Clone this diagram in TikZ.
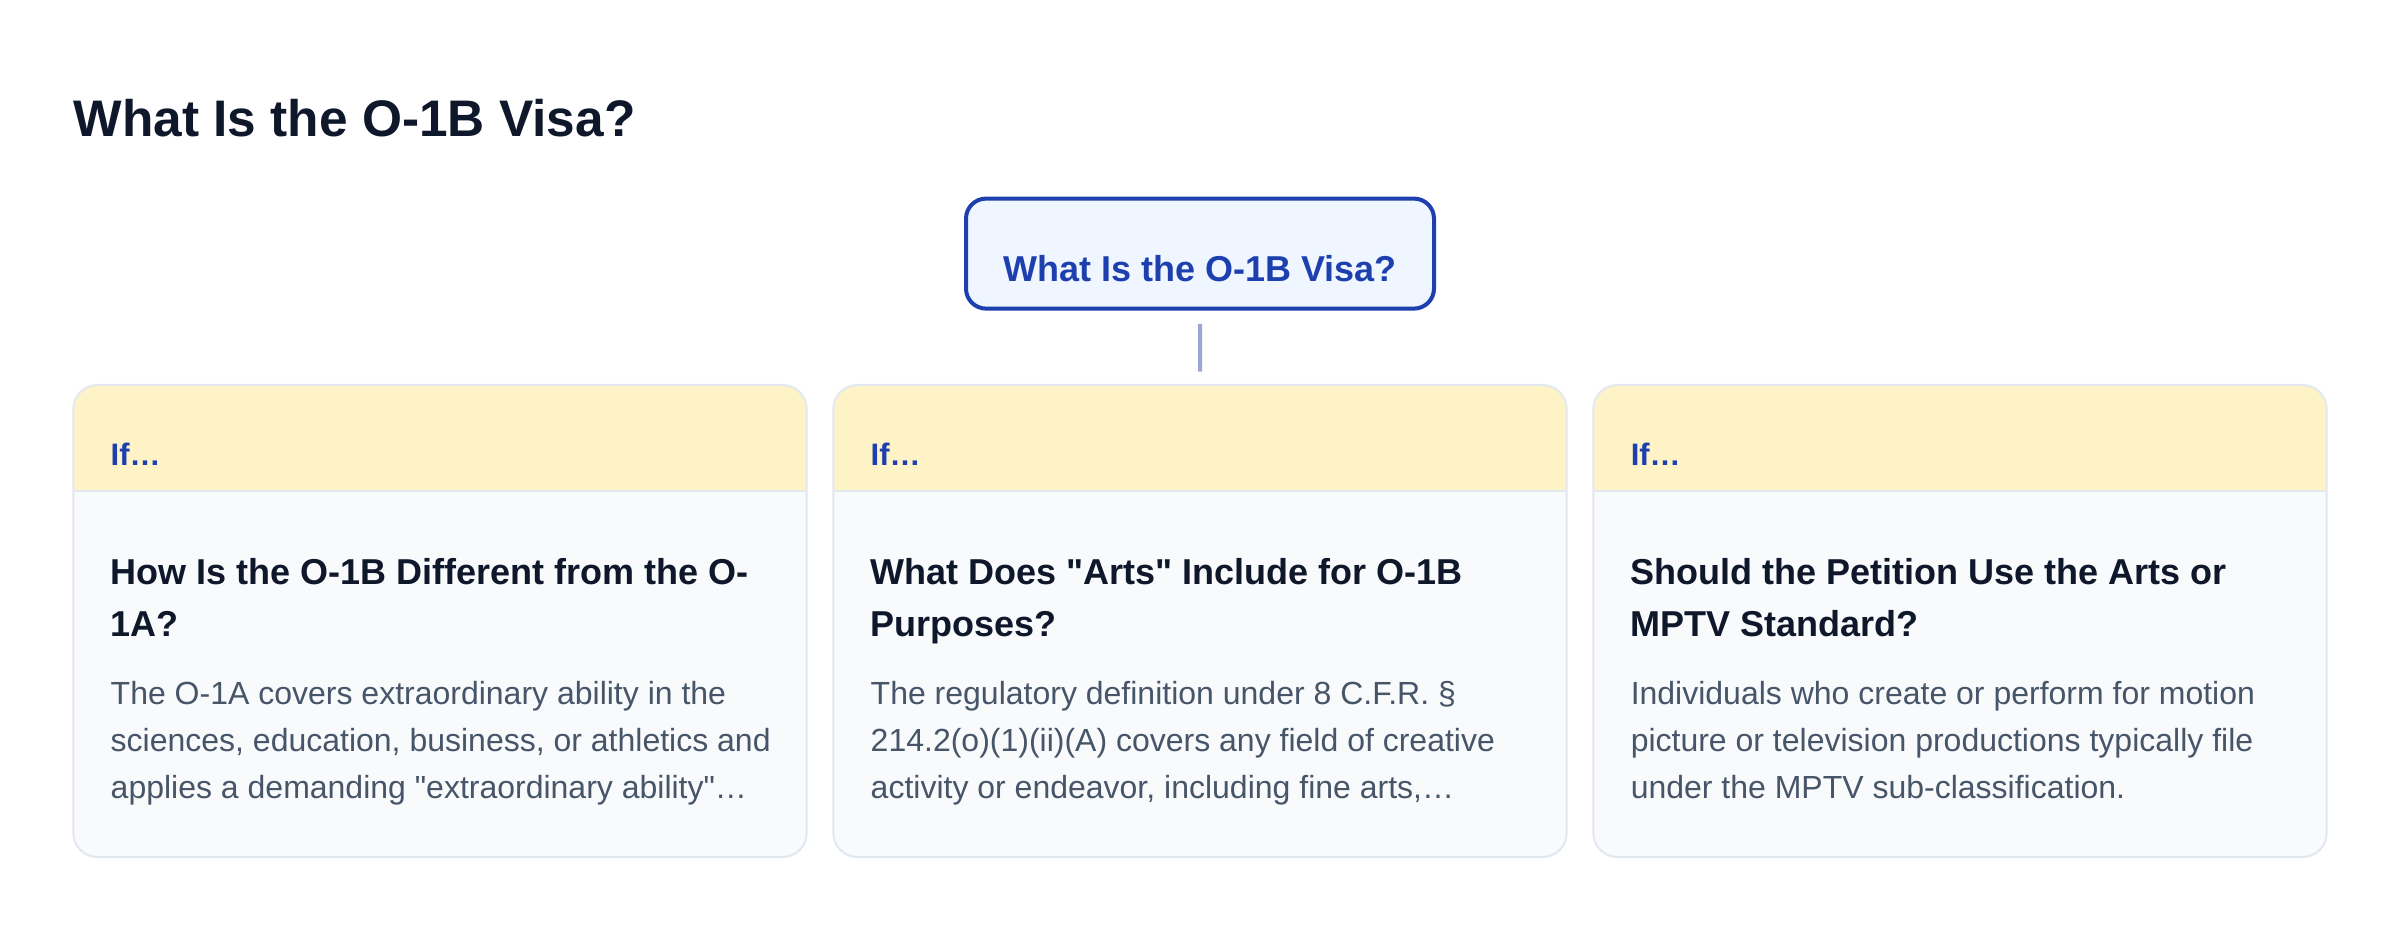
\documentclass[tikz,border=0pt]{standalone}
\usepackage{fontspec}
\setmainfont{Liberation Sans}[Ligatures=TeXOff]
\usepackage{xcolor}
\definecolor{ink}{HTML}{0F172A}
\definecolor{brand}{HTML}{1E40AF}
\definecolor{rootfill}{HTML}{EFF6FF}
\definecolor{hdrfill}{HTML}{FEF3C7}
\definecolor{cardfill}{HTML}{F8FAFC}
\definecolor{cardline}{HTML}{E2E8F0}
\definecolor{bodytext}{HTML}{475569}
\definecolor{linkcol}{HTML}{9AA6D8}

\begin{document}
\begin{tikzpicture}
        [
            x=1pt, y=-1pt,
            heading/.style={anchor=base west, inner sep=0, text=ink, font=\fontsize{25.7}{30}\selectfont\bfseries},
            rootbox/.style={rectangle, rounded corners=10pt, draw=brand, fill=rootfill, line width=2pt, minimum width=234pt, inner sep=0, text height=41.7pt, text depth=13.3pt, text=brand, font=\fontsize{18}{22}\selectfont\bfseries},
            card/.style={rectangle, rounded corners=12pt, fill=cardfill, minimum width=366.67pt, minimum height=236pt, inner sep=0, outer sep=0, anchor=north west},
            cardedge/.style={draw=cardline, line width=1pt, rounded corners=12pt},
            iftext/.style={anchor=base west, inner sep=0, text=brand, font=\fontsize{15.5}{18}\selectfont\bfseries},
            cardtitle/.style={anchor=north west, inner sep=0, align=left, text=ink, font=\fontsize{18}{26}\selectfont\bfseries},
            cardtext/.style={anchor=north west, inner sep=0, align=left, text=bodytext, font=\fontsize{16}{23.5}\selectfont},
            link/.style={draw=linkcol, line width=2pt, shorten <=6.7pt, shorten >=6.7pt},
        ]
    \useasboundingbox[fill=white] (0,0) rectangle (1200,465);

    \node[heading] (title) at (36.7,68.5) {What Is the O-1B Visa?};
    \node[rootbox] (root) at (600,126.8) {What Is the O-1B Visa?};

    \foreach \i/\head/\body in {
        1/{How Is the O-1B Different from the O-\\1A?}/{The O-1A covers extraordinary ability in the\\sciences, education, business, or athletics and\\applies a demanding "extraordinary ability"…},
        2/{What Does "Arts" Include for O-1B\\Purposes?}/{The regulatory definition under 8 C.F.R. §\\214.2(o)(1)(ii)(A) covers any field of creative\\activity or endeavor, including fine arts,…},
        3/{Should the Petition Use the Arts or\\MPTV Standard?}/{Individuals who create or perform for motion\\picture or television productions typically file\\under the MPTV sub-classification.}}{
        \node[card] (c\i) at ({36.67+(\i-1)*380},192.5) {};
        \begin{scope}
            \clip[rounded corners=12pt] (c\i.north west) rectangle (c\i.south east);
            \fill[hdrfill] (c\i.north west) rectangle ([yshift=-53pt]c\i.north east);
        \end{scope}
        \draw[cardline, line width=1pt] ([yshift=-53pt]c\i.north west) -- ([yshift=-53pt]c\i.north east);
        \draw[cardedge] (c\i.north west) rectangle (c\i.south east);
        \node[iftext] (if\i) at ([xshift=18.5pt, yshift=-40.5pt]c\i.north west) {If…};
        \node[cardtitle] (head\i) at ([xshift=18.5pt, yshift=-86.3pt]c\i.north west) {\head};
        \node[cardtext] (body\i) at ([xshift=18.5pt, yshift=-147.8pt]c\i.north west) {\body};
    }

    \draw[link] (root.south) -- (c2.north);
\end{tikzpicture}
\end{document}
